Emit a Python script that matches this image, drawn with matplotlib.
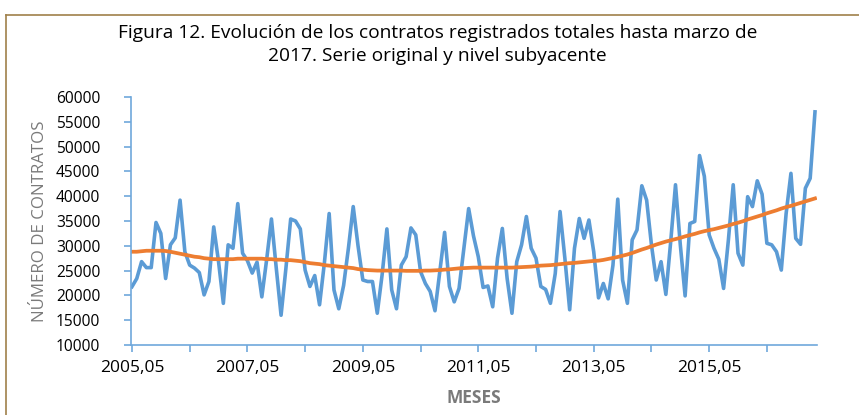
import matplotlib.pyplot as plt
from matplotlib.lines import Line2D

# monthly contracts, 2005-05 .. 2017-03
serie = [21750, 23400, 26800, 25600, 25600, 34700, 32500, 23400, 30200, 31600,
         39200, 28800, 26100, 25500, 24600, 20100, 22800, 33800, 26800, 18400,
         30200, 29500, 38500, 28500, 27000, 24500, 26700, 19700, 27200, 35400,
         25500, 16000, 25400, 35400, 35000, 33400, 25100, 21800, 24000, 18100,
         26500, 36500, 21100, 17300, 22000, 29500, 37900, 30000, 23100, 22800,
         22800, 16400, 24100, 33400, 21100, 17300, 26100, 27800, 33600, 32200,
         24800, 22400, 20800, 16900, 24800, 32700, 21800, 18700, 21400, 29500,
         37500, 32000, 27800, 21600, 21900, 17700, 27500, 33500, 23400, 16400,
         26800, 30200, 35900, 29500, 27500, 21800, 21200, 18400, 24400, 36900,
         27500, 17100, 29500, 35500, 31500, 35200, 28800, 19500, 22400, 19300,
         26100, 39400, 23100, 18400, 31200, 33200, 42100, 39200, 30200, 23100,
         26800, 20200, 30800, 42300, 30200, 19900, 34500, 34900, 48200, 44000,
         32200, 29500, 27300, 21400, 31200, 42300, 28500, 26100, 39900, 37900,
         43100, 40400, 30500, 30200, 28800, 25100, 36500, 44600, 31500, 30300,
         41600, 43600, 57000]

# underlying level (trend)
nivel = [28800, 28800, 28900, 29000, 29000, 29000, 29000, 28950, 28800, 28600,
         28400, 28200, 28000, 27800, 27700, 27500, 27400, 27300, 27300, 27300,
         27300, 27300, 27400, 27400, 27400, 27400, 27400, 27400, 27300, 27300,
         27200, 27200, 27100, 27100, 27000, 26900, 26700, 26500, 26400, 26300,
         26100, 26000, 25900, 25800, 25700, 25600, 25500, 25300, 25200, 25100,
         25050, 25000, 25000, 25000, 25000, 25000, 25000, 24950, 24950, 24950,
         24950, 25000, 25000, 25050, 25100, 25200, 25250, 25350, 25450, 25500,
         25550, 25600, 25600, 25600, 25600, 25600, 25600, 25600, 25600, 25600,
         25650, 25700, 25750, 25800, 25900, 26000, 26050, 26100, 26200, 26300,
         26400, 26500, 26550, 26650, 26750, 26850, 26950, 27000, 27150, 27350,
         27550, 27750, 28000, 28250, 28550, 28900, 29250, 29550, 29900, 30250,
         30550, 30850, 31100, 31350, 31600, 31900, 32150, 32400, 32700, 32950,
         33150, 33350, 33600, 33850, 34100, 34400, 34650, 34950, 35300, 35600,
         35900, 36200, 36550, 36850, 37150, 37500, 37800, 38050, 38350, 38650,
         38950, 39250, 39550]

etiquetas = ['2005,05', '2007,05', '2009,05', '2011,05', '2013,05', '2015,05']

plt.rcParams['font.family'] = ['Open Sans', 'DejaVu Sans']

fig = plt.figure(figsize=(8.59, 4.15), dpi=100)
ax = fig.add_axes([0.1525, 0.1687, 0.7985, 0.5976])

x = list(range(len(serie)))
ax.plot(x, serie, color='#5b9bd5', lw=2.6, solid_joinstyle='round')
ax.plot(x, nivel, color='#ed7d31', lw=2.7, solid_joinstyle='round')

ax.set_xlim(-0.2, len(serie) - 0.6)
ax.set_ylim(10000, 60000)
ax.set_yticks(range(10000, 60001, 5000))
ax.set_xticks(range(0, len(serie), 12))
labs = []
for k in range(0, len(serie), 12):
    labs.append(etiquetas[k // 24] if k % 24 == 0 else '')
ax.set_xticklabels(labs)

for s in ['top', 'right']:
    ax.spines[s].set_visible(False)
for s in ['left', 'bottom']:
    ax.spines[s].set_color('#6fa8dc')
    ax.spines[s].set_linewidth(1.2)
ax.tick_params(axis='both', colors='#6fa8dc', length=5, width=1.2,
               labelcolor='black')
ax.tick_params(axis='y', pad=17, labelsize=11.2)
ax.tick_params(axis='x', pad=6, labelsize=12.5)

ax.set_xlabel('MESES', color='#7a7a7a', fontsize=12.5, fontweight='bold', labelpad=9)
ax.set_ylabel('NÚMERO DE CONTRATOS', color='#7a7a7a', fontsize=12.2, labelpad=6)

fig.text(0.509, 0.892, 'Figura 12. Evolución de los contratos registrados totales hasta marzo de\n2017. Serie original y nivel subyacente',
         ha='center', va='center', fontsize=13.8, linespacing=1.35)

# frame of the figure box
fig.add_artist(Line2D([0.007, 0.007], [0, 0.965], color='#a0804a', lw=1.2))
fig.add_artist(Line2D([0.007, 1.0], [0.965, 0.965], color='#a0804a', lw=1.2))

fig.savefig('out.png', dpi=100)
